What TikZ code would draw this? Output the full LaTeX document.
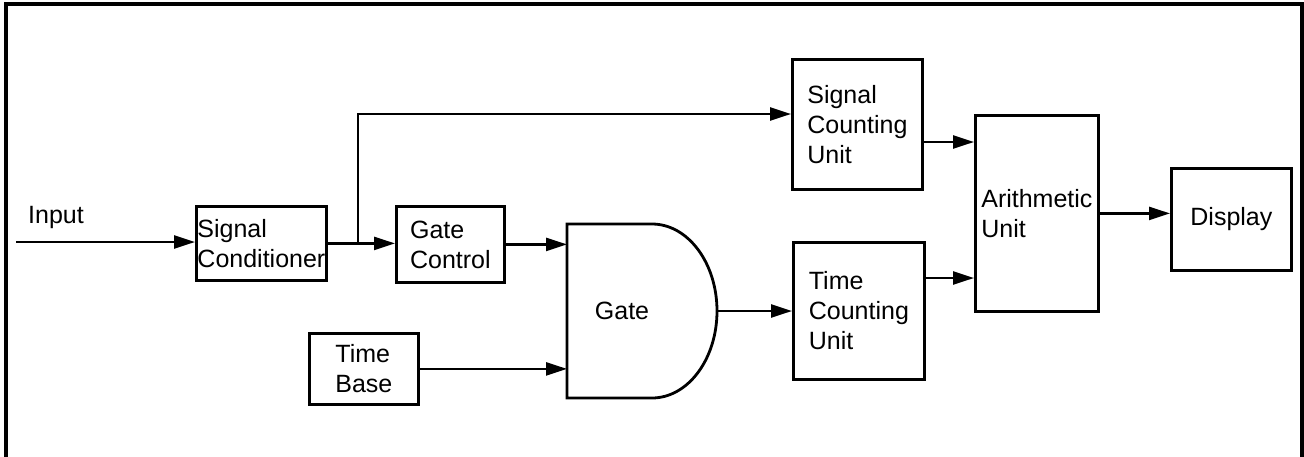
\documentclass[tikz,border=0pt]{standalone}
\usepackage{fontspec}
\setmainfont{Liberation Sans}
\usetikzlibrary{arrows.meta}

\begin{document}
\begin{tikzpicture}[x=1pt, y=-1pt, every node/.style={font=\fontsize{25}{30}\selectfont}, >={Triangle[length=21pt, width=13pt]}, blk/.style={draw, line width=2.8pt, anchor=north west, align=left, inner sep=0pt}, wire/.style={line width=2.4pt}]
	\useasboundingbox (0,0) rectangle (1304,456);
	\draw[line width=3.8pt] (6,470) -- (6,4) -- (1302,4) -- (1302,470);
	\node[anchor=west, inner sep=0pt] (inlabel) at (28,217) {Input};
	\coordinate (inp) at (16,242);
	\node[blk, minimum width=130pt, minimum height=74pt] (sigcond) at (195,205) {Signal\\Conditioner};
	\node[blk, minimum width=108pt, minimum height=76pt] (gatectl) at (395,205) {Gate\\Control};
	\node[blk, minimum width=109pt, minimum height=71pt] (timebase) at (308,332) {Time\\Base};
	\node[blk, minimum width=130pt, minimum height=130pt] (sigcnt) at (791,58) {Signal\\Counting\\Unit};
	\node[blk, minimum width=131pt, minimum height=137pt] (timecnt) at (792,241) {Time\\Counting\\Unit};
	\node[blk, minimum width=123pt, minimum height=196pt] (arith) at (974,114) {Arithmetic\\Unit};
	\node[blk, minimum width=120pt, minimum height=102pt, align=center] (disp) at (1170,167) {Display};
	\draw[line width=2.8pt] (567,224) -- (652,224) arc[start angle=-90, end angle=90, x radius=65, y radius=87] -- (567,398) -- cycle;
	\node (gate) at (622,311) {Gate};
	\coordinate (gin1) at (567,243);
	\coordinate (gin2) at (567,368);
	\coordinate (gout) at (717,311);
	\coordinate (br) at (358,242);
	\coordinate (top) at (358,114);
	\coordinate (a1) at (974,142);
	\coordinate (a2) at (974,278);
	\draw[wire, ->] (inp) -- (inp -| sigcond.west);
	\draw[wire, ->] (sigcond.east) -- (sigcond.east -| gatectl.west);
	\draw[wire, ->] (br) -- (top) -- (top -| sigcnt.west);
	\draw[wire, ->] (gatectl.east) -- (gatectl.east -| gin1);
	\draw[wire, ->] (timebase.east) -- (timebase.east -| gin2);
	\draw[wire, ->] (gout) -- (gout -| timecnt.west);
	\draw[wire, ->] (sigcnt.east |- a1) -- (a1);
	\draw[wire, ->] (timecnt.east |- a2) -- (a2);
	\draw[wire, ->] (arith.east) -- (arith.east -| disp.west);
\end{tikzpicture}
\end{document}
